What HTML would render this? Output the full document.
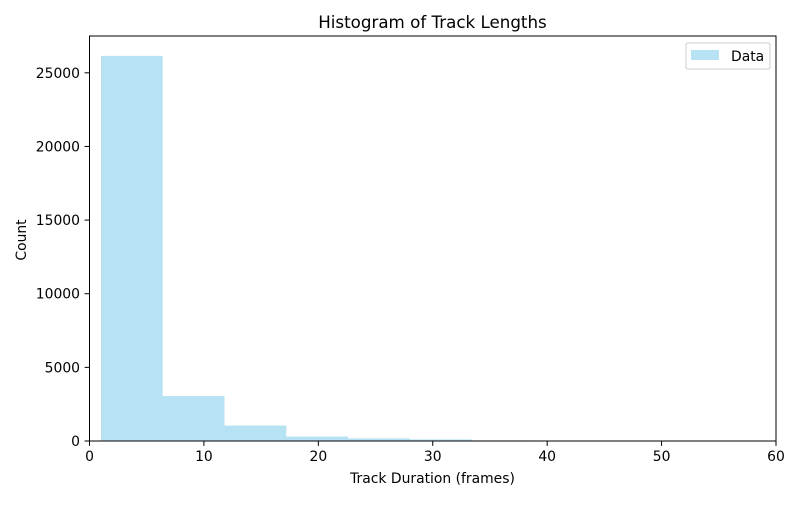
<!DOCTYPE html>
<html><head><meta charset="utf-8"><style>
body{margin:0;background:#fff}
svg text{font-family:"DejaVu Sans","Liberation Sans",sans-serif;fill:#000}
</style></head><body>
<svg width="800" height="500" xmlns="http://www.w3.org/2000/svg">
<rect width="800" height="500" fill="#fff"/>
<g id="bars"></g>
<g id="axes"></g>
<text x="432.5" y="28" font-size="16.7" text-anchor="middle">Histogram of Track Lengths</text>
<text x="432.5" y="483" font-size="13.9" text-anchor="middle">Track Duration (frames)</text>
<text transform="translate(26,240) rotate(-90)" font-size="13.9" text-anchor="middle">Count</text>
<g>
<rect x="686" y="43" width="84" height="26" rx="2" fill="#fff" stroke="#ccc" stroke-width="1"/>
<rect x="691" y="50" width="28" height="10" fill="#87ceeb" fill-opacity="0.6"/>
<text x="731" y="61" font-size="13.9">Data</text>
</g>
</svg>
<script>
const binStart = 1;
const binWidth = 5.4;
const counts = [26150, 3050, 1050, 300, 180, 110, 40, 30, 20, 15];
const xTicks = [0, 10, 20, 30, 40, 50, 60];
const yTicks = [0, 5000, 10000, 15000, 20000, 25000];
const L=89.5,R=776,T=36,B=441, xMax=60, yMax=27500;
const xs=v=>L+(v/xMax)*(R-L), ys=v=>B-(v/yMax)*(B-T);
const NS="http://www.w3.org/2000/svg";
const bars=document.getElementById('bars'), axes=document.getElementById('axes');
function mk(tag,attrs,parent){const e=document.createElementNS(NS,tag);for(const k in attrs)e.setAttribute(k,attrs[k]);parent.appendChild(e);return e;}
counts.forEach((c,i)=>{
  const x0=xs(binStart+i*binWidth), x1=xs(binStart+(i+1)*binWidth);
  const r=mk('rect',{x:x0,y:ys(c),width:x1-x0,height:B-ys(c),fill:'#87ceeb','fill-opacity':0.6},bars);
  
  
});
const frame=mk('rect',{x:L,y:T,width:R-L,height:B-T,fill:'none',stroke:'#000','stroke-width':1},axes);


xTicks.forEach(t=>{
  const x=xs(t);
  mk('line',{x1:x,x2:x,y1:B,y2:B+4.9,stroke:'#000'},axes);
  const tx=mk('text',{x:x,y:B+20,'font-size':13.9,'text-anchor':'middle'},axes);
  tx.textContent=t;
  
  
});
yTicks.forEach(t=>{
  const y=ys(t);
  mk('line',{x1:L-4.9,x2:L,y1:y,y2:y,stroke:'#000'},axes);
  const tx=mk('text',{x:L-9.5,y:y+5,'font-size':13.9,'text-anchor':'end'},axes);
  tx.textContent=t;
  
  
});
</script>
</body></html>
